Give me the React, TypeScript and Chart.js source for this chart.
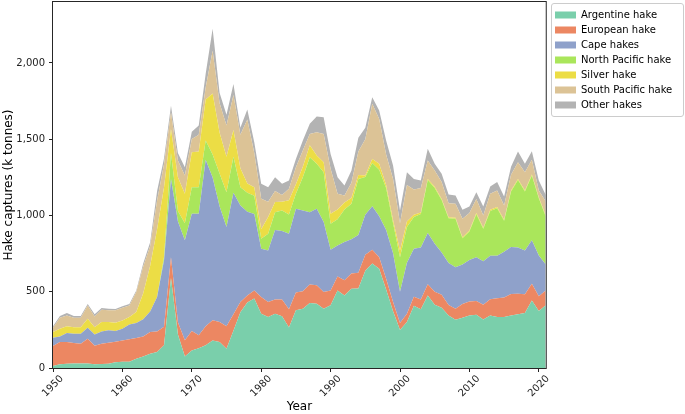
import React, { useEffect, useRef } from 'react';
import { Chart, registerables } from 'chart.js';

Chart.register(...registerables);

const years = [
  1950, 1951, 1952, 1953, 1954, 1955, 1956, 1957, 1958, 1959,
  1960, 1961, 1962, 1963, 1964, 1965, 1966, 1967, 1968, 1969,
  1970, 1971, 1972, 1973, 1974, 1975, 1976, 1977, 1978, 1979,
  1980, 1981, 1982, 1983, 1984, 1985, 1986, 1987, 1988, 1989,
  1990, 1991, 1992, 1993, 1994, 1995, 1996, 1997, 1998, 1999,
  2000, 2001, 2002, 2003, 2004, 2005, 2006, 2007, 2008, 2009,
  2010, 2011, 2012, 2013, 2014, 2015, 2016, 2017, 2018, 2019,
  2020, 2021,
];

const argentine = [
  13, 24, 28, 30, 30, 30, 24, 26, 28, 37,
  41, 41, 61, 76, 94, 105, 150, 590, 220, 75,
  115, 130, 150, 180, 170, 127, 245, 365, 430, 455,
  355, 335, 356, 340, 265, 378, 389, 426, 422, 389,
  411, 509, 476, 520, 522, 638, 686, 651, 515, 372,
  250, 302, 408, 385, 476, 415, 395, 345, 317, 330,
  345, 350, 318, 345, 334, 334, 345, 352, 360, 443,
  374, 411,
];

const european = [
  131, 146, 142, 134, 129, 162, 122, 133, 138, 135,
  140, 147, 135, 131, 142, 135, 120, 137, 80, 107,
  128, 84, 123, 133, 132, 146, 107, 68, 46, 54,
  110, 97, 94, 110, 120, 117, 114, 122, 120, 109,
  98, 91, 99, 100, 103, 104, 89, 76, 70, 61,
  45, 54, 60, 65, 74, 85, 85, 68, 72, 90,
  91, 90, 96, 106, 124, 129, 140, 135, 123, 110,
  96, 98,
];

const cape = [
  55, 37, 59, 61, 66, 72, 74, 81, 81, 70,
  77, 98, 99, 113, 134, 225, 436, 513, 660, 655,
  768, 797, 1092, 937, 758, 651, 798, 633, 549, 501,
  317, 339, 455, 448, 495, 549, 530, 474, 502, 459,
  266, 204, 251, 225, 247, 263, 285, 268, 320, 319,
  205, 334, 314, 340, 335, 315, 277, 276, 271, 259,
  273, 287, 286, 285, 278, 299, 308, 303, 288, 284,
  268, 170,
];

const northPacific = [
  0, 0, 0, 0, 0, 0, 0, 0, 0, 0,
  0, 0, 0, 0, 0, 0, 24, 170, 70, 113,
  174, 175, 126, 150, 215, 229, 235, 120, 125, 120,
  65, 109, 117, 135, 127, 98, 218, 360, 295, 327,
  171, 171, 214, 232, 368, 247, 285, 305, 275, 198,
  227, 234, 208, 220, 347, 365, 345, 293, 318, 172,
  186, 282, 213, 294, 312, 203, 364, 443, 386, 425,
  375, 314,
];

const silver = [
  37, 51, 44, 43, 43, 59, 48, 61, 54, 55,
  54, 48, 72, 170, 300, 445, 455, 158, 221, 192,
  230, 234, 269, 400, 270, 232, 175, 124, 60, 56,
  63, 110, 66, 57, 93, 63, 69, 78, 54, 66,
  65, 65, 45, 38, 25, 10, 25, 40, 20, 20,
  43, 36, 15, 10, 8, 8, 7, 7, 7, 7,
  7, 7, 7, 7, 7, 7, 7, 7, 7, 7,
  7, 7,
];

const southPacific = [
  28, 72, 72, 62, 62, 87, 70, 81, 77, 81,
  83, 76, 131, 175, 130, 188, 153, 109, 109, 120,
  87, 110, 80, 280, 192, 205, 230, 220, 420, 224,
  200, 100, 72, 45, 75, 112, 106, 75, 153, 185,
  295, 102, 46, 100, 155, 238, 362, 293, 200, 270,
  180, 240, 165, 160, 120, 107, 110, 92, 92, 120,
  114, 93, 80, 105, 109, 94, 104, 110, 120, 96,
  44, 92,
];

const other = [
  9, 11, 15, 11, 11, 9, 14, 11, 11, 9,
  10, 9, 11, 20, 25, 62, 37, 43, 50, 55,
  48, 60, 90, 145, 68, 70, 73, 45, 65, 70,
  98, 95, 91, 73, 54, 54, 65, 66, 103, 109,
  98, 109, 66, 80, 90, 75, 43, 55, 91, 88,
  83, 84, 70, 49, 77, 44, 54, 57, 54, 59,
  43, 44, 59, 48, 55, 59, 52, 70, 55, 57,
  66, 43,
];

const seriesNames = [
  'Argentine hake',
  'European hake',
  'Cape hakes',
  'North Pacific hake',
  'Silver hake',
  'South Pacific hake',
  'Other hakes',
];

const seriesColors = [
  '#7acfab',
  '#ec8762',
  '#8fa1ca',
  '#aae65b',
  '#ecdd45',
  '#dcc396',
  '#b3b3b3',
];

const xTickYears = [1950, 1960, 1970, 1980, 1990, 2000, 2010, 2020];
const yTickValues = [0, 500, 1000, 1500, 2000];

const FONT = '"DejaVu Sans", sans-serif';

export default function App() {
  const canvasRef = useRef<HTMLCanvasElement>(null);

  useEffect(() => {
    const canvas = canvasRef.current;
    if (!canvas) return;
    const seriesValues = [argentine, european, cape, northPacific, silver, southPacific, other];

    const datasets = seriesNames.map((name, i) => ({
      label: name,
      data: years.map((yr, j) => ({ x: yr, y: seriesValues[i][j] })),
      backgroundColor: seriesColors[i],
      borderColor: seriesColors[i],
      borderWidth: 0,
      pointRadius: 0,
      pointHoverRadius: 0,
      tension: 0,
      fill: i === 0 ? 'origin' : '-1',
    }));

    const framePlugin = {
      id: 'frameAndLegendBox',
      afterLayout(chart: any) {
        const lg = chart.legend;
        if (lg) {
          const w = lg.width;
          const h = lg.height;
          lg.left = 550;
          lg.right = 550 + w;
          lg.top = 5;
          lg.bottom = 5 + h;
        }
      },
      afterDraw(chart: any) {
        const { ctx, chartArea: a } = chart;
        ctx.save();
        ctx.strokeStyle = '#262626';
        ctx.lineWidth = 1;
        ctx.strokeRect(a.left - 0.5, a.top - 0.5, a.right - a.left + 1, a.bottom - a.top + 1);
        // legend frame
        const x0 = 551.5, y0 = 3.5, x1 = 683.5, y1 = 116.5, r = 2.5;
        ctx.strokeStyle = '#cccccc';
        ctx.beginPath();
        ctx.moveTo(x0 + r, y0);
        ctx.lineTo(x1 - r, y0);
        ctx.arcTo(x1, y0, x1, y0 + r, r);
        ctx.lineTo(x1, y1 - r);
        ctx.arcTo(x1, y1, x1 - r, y1, r);
        ctx.lineTo(x0 + r, y1);
        ctx.arcTo(x0, y1, x0, y1 - r, r);
        ctx.lineTo(x0, y0 + r);
        ctx.arcTo(x0, y0, x0 + r, y0, r);
        ctx.closePath();
        ctx.stroke();
        ctx.restore();
      },
    };

    const chart = new Chart(canvas, {
      type: 'line',
      data: { datasets },
      plugins: [framePlugin],
      options: {
        animation: false,
        responsive: false,
        devicePixelRatio: 1,
        events: [],
        layout: {
          autoPadding: false,
          padding: { top: 2, right: 7, bottom: 0, left: 0 },
        },
        plugins: {
          tooltip: { enabled: false },
          legend: {
            position: 'right',
            align: 'start',
            labels: {
              boxWidth: 21,
              boxHeight: 7,
              padding: 5,
              color: '#000',
              font: { family: FONT, size: 10 },
            },
          },
        },
        scales: {
          x: {
            type: 'linear',
            min: 1950,
            max: 2021,
            afterBuildTicks: (axis: any) => {
              axis.ticks = xTickYears.map((v) => ({ value: v }));
            },
            afterFit: (axis: any) => {
              axis.height = 46;
              axis.paddingLeft = 0;
              axis.paddingRight = 0;
            },
            ticks: {
              autoSkip: false,
              minRotation: 45,
              maxRotation: 45,
              padding: 1,
              labelOffset: 9,
              color: '#222',
              font: { family: FONT, size: 10 },
              callback: (v: any) => String(v),
            },
            grid: { drawOnChartArea: false, tickLength: 4, color: '#222', lineWidth: 1 },
            border: { display: false },
            title: {
              display: true,
              text: 'Year',
              color: '#000',
              font: { family: FONT, size: 12 },
              padding: { top: 0, bottom: 0 },
            },
          },
          y: {
            type: 'linear',
            stacked: true,
            min: 0,
            max: 2400,
            afterBuildTicks: (axis: any) => {
              axis.ticks = yTickValues.map((v) => ({ value: v }));
            },
            afterFit: (axis: any) => {
              axis.width = 53;
              axis.paddingTop = 0;
              axis.paddingBottom = 0;
            },
            ticks: {
              padding: 4,
              color: '#222',
              font: { family: FONT, size: 10 },
              callback: (v: any) => Number(v).toLocaleString('en-US'),
            },
            grid: { drawOnChartArea: false, tickLength: 4, color: '#222', lineWidth: 1 },
            border: { display: false },
            title: {
              display: true,
              text: 'Hake captures (k tonnes)',
              color: '#000',
              font: { family: FONT, size: 12 },
              padding: { top: 2, bottom: 0 },
            },
          },
        },
      },
    } as any);

    return () => chart.destroy();
  }, []);

  return (
    <div style={{ position: 'absolute', left: 0, top: 0, width: 685, height: 414, background: '#fff' }}>
      <canvas ref={canvasRef} width={685} height={414} style={{ width: 685, height: 414, display: 'block' }} />
    </div>
  );
}
